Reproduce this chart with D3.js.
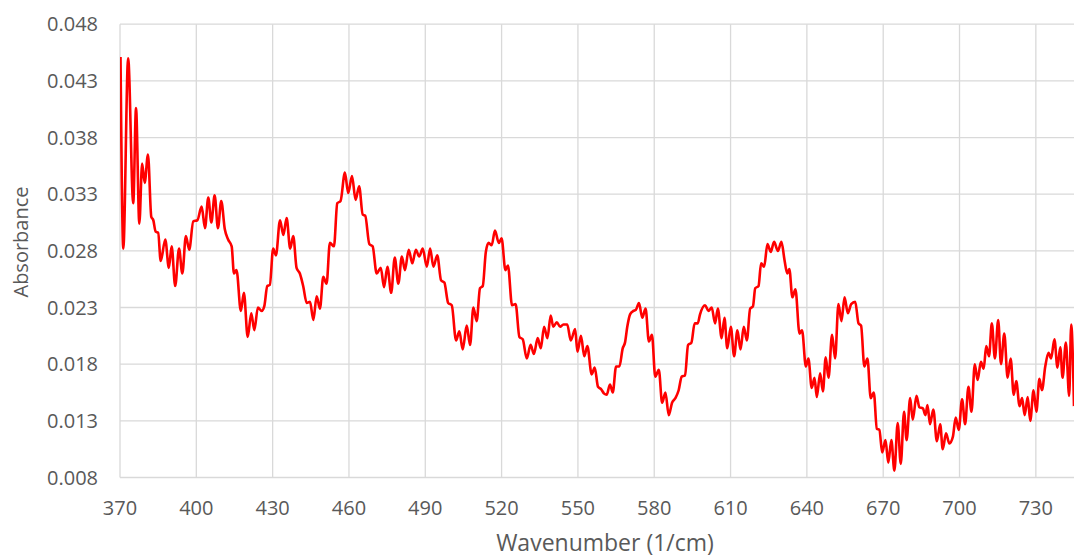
<!DOCTYPE html>
<html>
<head>
<meta charset="utf-8">
<script src="https://cdn.jsdelivr.net/npm/d3@7"></script>
<style>
  html, body { margin: 0; padding: 0; background: #ffffff; }
  svg { display: block; }
  text { font-family: "Open Sans", "Liberation Sans", sans-serif; fill: #595959; }
</style>
</head>
<body>
<svg id="chart" width="1074" height="557"></svg>
<script>
// ---- Data ----
const wavenumber = [
  370.2,371.3,373.2,375.2,376.3,377.6,378.7,379.7,381.0,382.3,383.1,384.0,385.0,386.0,387.8,389.2,390.3,391.7,393.2,394.5,
  395.9,397.2,398.8,400.4,402.1,403.4,404.7,405.9,407.2,408.5,409.8,411.2,412.5,413.9,
  414.8,415.8,417.5,418.7,420.2,421.6,422.8,424.2,425.7,426.7,427.9,428.9,430.2,431.3,432.9,434.2,435.5,436.9,438.1,439.4,
  440.7,442.0,443.4,444.7,446.0,447.3,448.6,449.9,451.2,452.5,454.1,455.4,456.7,458.4,459.7,461.2,462.6,464.0,
  465.4,466.4,468.0,469.3,470.9,472.5,473.8,475.1,476.6,478.0,479.4,480.8,482.0,483.5,484.9,486.3,487.6,489.0,490.6,491.9,
  493.2,494.7,496.2,497.5,499.0,500.4,502.1,503.4,504.7,506.3,
  507.6,508.9,510.2,511.5,512.6,513.8,514.9,516.1,517.4,518.9,520.0,521.5,522.5,524.1,525.5,527.0,528.3,529.9,531.4,532.7,
  534.2,535.4,536.7,538.0,539.3,540.3,541.7,543.0,544.3,545.8,547.2,548.9,549.8,551.2,552.5,553.7,
  555.4,556.6,557.9,559.1,560.3,561.3,562.6,563.7,565.0,566.3,567.6,568.5,569.4,570.5,571.8,572.8,574.0,575.3,576.6,577.9,
  579.1,580.4,581.8,583.1,584.4,585.7,587.0,588.3,589.6,590.8,592.1,593.3,594.6,595.9,597.1,
  598.0,600.0,601.3,602.6,603.9,605.0,606.5,607.6,608.7,610.1,611.4,612.7,613.9,615.2,616.4,617.7,618.8,619.7,621.0,622.0,
  623.2,624.5,625.8,627.1,628.6,630.0,631.2,632.3,633.1,634.3,635.5,637.1,638.1,639.6,640.6,641.9,643.0,643.9,
  645.2,646.3,647.4,648.5,649.9,651.1,652.4,653.6,654.8,656.1,657.4,659.0,660.3,661.3,662.6,663.8,665.1,666.3,667.5,668.5,
  669.6,670.9,672.0,673.2,674.4,675.7,676.9,678.2,679.2,680.6,681.6,683.1,684.2,685.6,686.6,687.4,688.4,689.7,691.1,
  692.4,693.4,694.7,696.0,697.4,698.5,699.7,701.0,702.2,703.5,704.7,706.0,707.1,708.4,709.5,710.5,711.6,712.7,713.9,715.2,
  716.3,717.6,718.9,720.1,721.3,722.3,723.6,724.6,725.6,726.8,727.8,729.1,730.2,731.4,732.4,733.7,735.0,736.0,737.3,738.5,
  739.6,740.5,741.8,743.1,743.9,745.0
];
const absorbance = [
  0.0451,0.0282,0.0450,0.0322,0.0406,0.0304,0.0357,0.0340,0.0365,0.0310,0.0307,0.0297,0.0296,0.0271,0.0290,0.0265,0.0284,0.0249,0.0282,0.0260,
  0.0293,0.0281,0.0306,0.0307,0.0319,0.0300,0.0327,0.0305,0.0329,0.0300,0.0324,0.0299,0.0290,0.0284,
  0.0260,0.0263,0.0227,0.0243,0.0204,0.0225,0.0210,0.0230,0.0227,0.0231,0.0249,0.0250,0.0282,0.0276,0.0307,0.0294,0.0309,0.0282,0.0293,0.0265,
  0.0260,0.0249,0.0234,0.0235,0.0219,0.0240,0.0229,0.0257,0.0251,0.0287,0.0284,0.0322,0.0324,0.0349,0.0331,0.0346,0.0325,0.0337,
  0.0312,0.0311,0.0286,0.0284,0.0260,0.0265,0.0248,0.0266,0.0243,0.0274,0.0251,0.0275,0.0263,0.0281,0.0269,0.0281,0.0275,0.0282,0.0266,0.0282,
  0.0266,0.0276,0.0254,0.0252,0.0234,0.0232,0.0201,0.0209,0.0193,0.0214,
  0.0197,0.0230,0.0218,0.0247,0.0249,0.0279,0.0287,0.0285,0.0298,0.0287,0.0291,0.0263,0.0267,0.0232,0.0233,0.0204,0.0202,0.0185,0.0197,0.0189,
  0.0203,0.0194,0.0213,0.0203,0.0223,0.0213,0.0217,0.0213,0.0215,0.0215,0.0201,0.0211,0.0191,0.0205,0.0187,0.0196,
  0.0171,0.0177,0.0160,0.0158,0.0154,0.0153,0.0162,0.0155,0.0178,0.0178,0.0194,0.0199,0.0213,0.0224,0.0227,0.0228,0.0234,0.0221,0.0229,0.0200,
  0.0206,0.0169,0.0175,0.0146,0.0155,0.0135,0.0146,0.0150,0.0157,0.0169,0.0170,0.0197,0.0199,0.0216,0.0216,
  0.0224,0.0232,0.0227,0.0230,0.0216,0.0229,0.0203,0.0221,0.0194,0.0213,0.0187,0.0210,0.0193,0.0213,0.0201,0.0229,0.0231,0.0247,0.0249,0.0269,
  0.0266,0.0286,0.0279,0.0288,0.0280,0.0288,0.0272,0.0260,0.0264,0.0239,0.0246,0.0207,0.0210,0.0178,0.0185,0.0159,0.0168,0.0151,
  0.0172,0.0156,0.0186,0.0168,0.0206,0.0185,0.0233,0.0218,0.0239,0.0225,0.0233,0.0235,0.0216,0.0214,0.0178,0.0185,0.0150,0.0155,0.0123,0.0122,
  0.0102,0.0113,0.0093,0.0113,0.0086,0.0128,0.0092,0.0138,0.0113,0.0150,0.0131,0.0152,0.0142,0.0141,0.0135,0.0144,0.0127,0.0140,0.0112,
  0.0127,0.0105,0.0119,0.0110,0.0116,0.0133,0.0122,0.0149,0.0127,0.0160,0.0138,0.0180,0.0166,0.0182,0.0176,0.0196,0.0187,0.0216,0.0185,0.0219,
  0.0180,0.0207,0.0168,0.0185,0.0153,0.0165,0.0143,0.0150,0.0135,0.0151,0.0130,0.0157,0.0138,0.0167,0.0157,0.0178,0.0190,0.0185,0.0202,0.0177,
  0.0195,0.0168,0.0199,0.0152,0.0215,0.0143
];
const xTicks = [370, 400, 430, 460, 490, 520, 550, 580, 610, 640, 670, 700, 730];
const yTicks = [0.008, 0.013, 0.018, 0.023, 0.028, 0.033, 0.038, 0.043, 0.048];
const xTitle = "Wavenumber (1/cm)";
const yTitle = "Absorbance";

// ---- Layout ----
const svg = d3.select("#chart");
const plot = { left: 120, right: 1074, top: 24.2, bottom: 477.5 };

const x = d3.scaleLinear().domain([370, 745]).range([plot.left, plot.right]);
const y = d3.scaleLinear().domain([0.008, 0.048]).range([plot.bottom, plot.top]);

// gridlines
svg.append("g").selectAll("line.h").data(yTicks).join("line")
  .attr("x1", plot.left).attr("x2", plot.right)
  .attr("y1", d => y(d)).attr("y2", d => y(d))
  .attr("stroke", "#d9d9d9").attr("stroke-width", 1.3);
svg.append("g").selectAll("line.v").data(xTicks).join("line")
  .attr("x1", d => x(d)).attr("x2", d => x(d))
  .attr("y1", plot.top).attr("y2", plot.bottom)
  .attr("stroke", "#d9d9d9").attr("stroke-width", 1.3);

// tick labels
svg.append("g").selectAll("text").data(yTicks).join("text")
  .attr("x", 98).attr("y", d => y(d)).attr("dy", "0.36em")
  .attr("text-anchor", "end").style("font-size", "20px")
  .text(d => d3.format(".3f")(d));
svg.append("g").selectAll("text").data(xTicks).join("text")
  .attr("x", d => x(d)).attr("y", 515)
  .attr("text-anchor", "middle").style("font-size", "20px")
  .text(d => d);

// axis titles
svg.append("text").attr("x", 605).attr("y", 551)
  .attr("text-anchor", "middle").style("font-size", "23px").text(xTitle);
svg.append("text")
  .attr("transform", "translate(28,242) rotate(-90)")
  .attr("text-anchor", "middle").style("font-size", "20px").text(yTitle);

// clip
svg.append("clipPath").attr("id", "clip").append("rect")
  .attr("x", plot.left).attr("y", 0).attr("width", plot.right - plot.left).attr("height", 557);

const data = wavenumber.map((w, i) => ({ w, a: absorbance[i] }));
const line = d3.line().x(d => x(d.w)).y(d => y(d.a)).curve(d3.curveMonotoneX);

svg.append("path").datum(data)
  .attr("clip-path", "url(#clip)")
  .attr("fill", "none").attr("stroke", "#ff0000").attr("stroke-width", 2.6)
  .attr("stroke-linejoin", "round")
  .attr("d", line);
</script>
</body>
</html>
